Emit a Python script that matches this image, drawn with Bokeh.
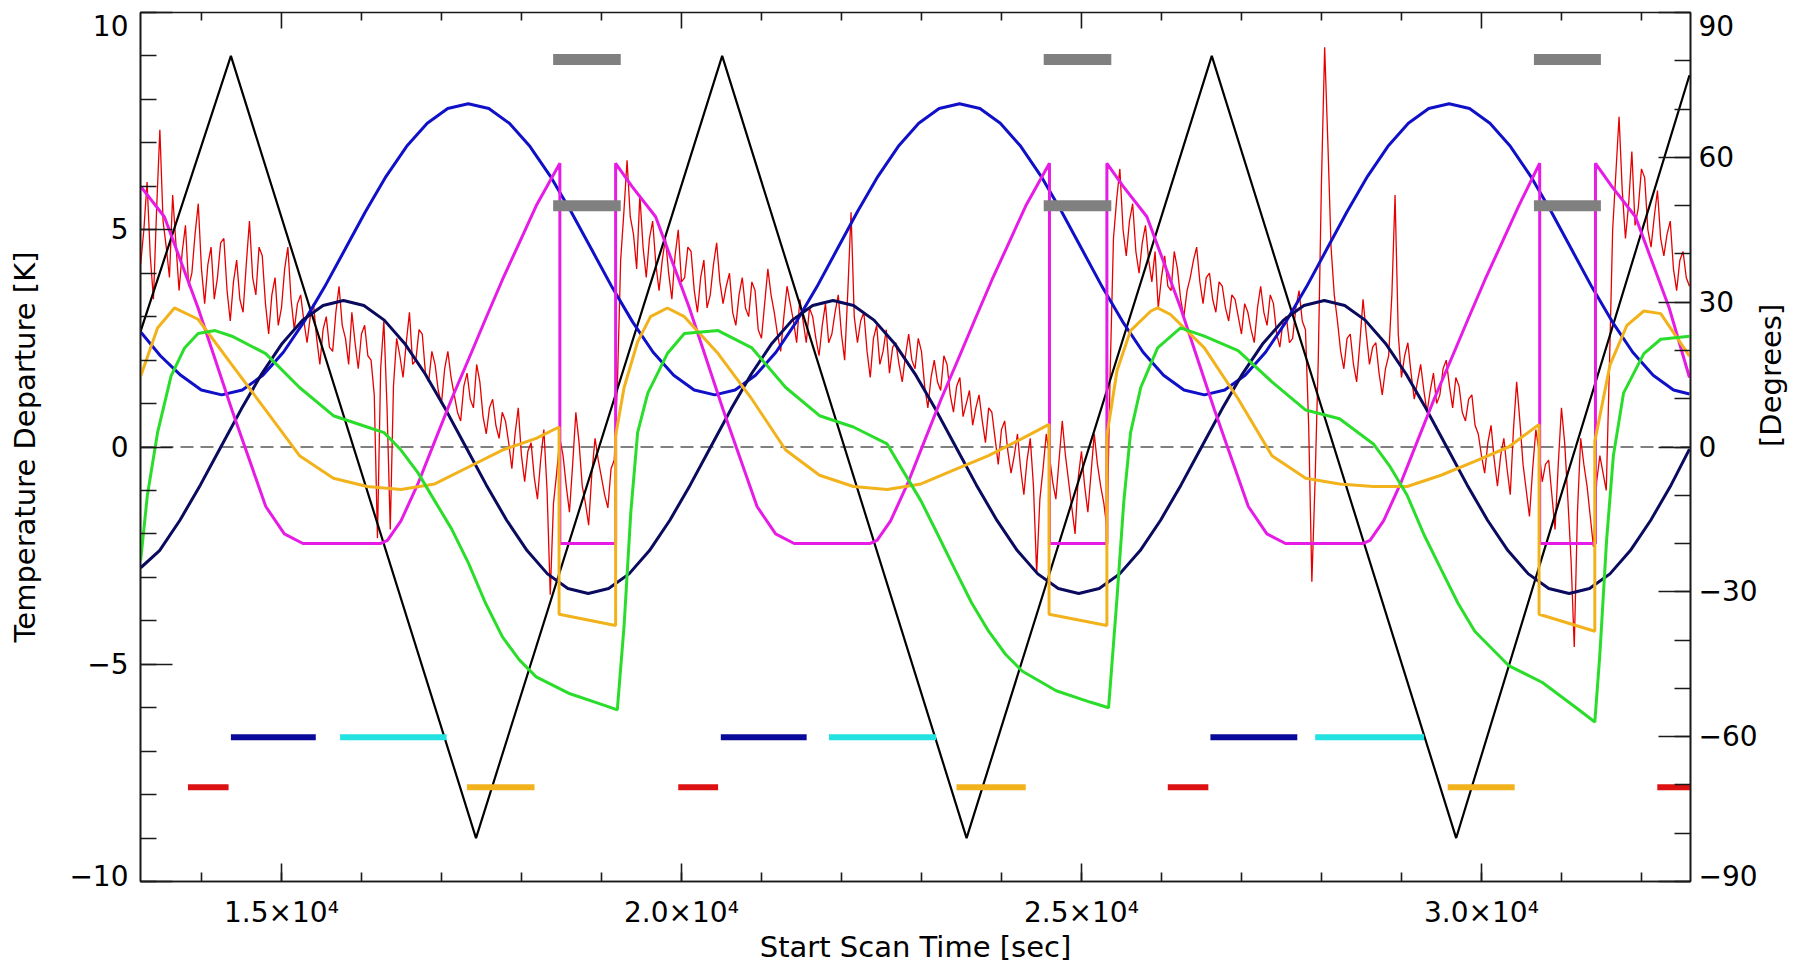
import numpy as np
from bokeh.plotting import figure
from bokeh.models import Range1d, LinearAxis, FixedTicker, Span
from bokeh.embed import file_html
from bokeh.resources import INLINE

# ---------------- data ----------------
# Temperature departure [K], sampled every 40 s starting at 13240 s
red_t0 = 13240
red_dt = 40
red_vals = [
    4.2, 5.0, 6.1, 4.4, 3.4, 5.5, 7.3, 5.2, 4.6, 3.9, 5.8, 4.7,
    3.6, 4.5, 5.1, 3.7, 4.0, 4.9, 5.6, 4.1, 3.3, 4.2, 4.6, 3.4, 3.9, 4.7,
    4.8, 3.6, 2.9, 3.8, 4.3, 3.4, 3.1, 4.2, 5.2, 3.9, 3.5, 4.6, 4.4, 3.3, 2.6, 3.5,
    3.9, 2.8, 3.2, 4.1, 4.6, 3.4, 2.7, 3.3, 3.5, 2.9,
    2.4, 3.0, 3.3, 2.5, 1.9, 2.7, 3.0, 2.3, 2.2, 3.1, 3.7, 2.8, 2.5, 1.9, 3.1, 2.4,
    1.8, 2.6, 2.8, 2.1,
    2.0, 1.2, -2.1, 1.8, 2.9, 0.9, -1.9, 1.4, 2.5, 2.1, 1.6, 2.4, 3.1, 1.9, 2.0, 2.7,
    2.6, 1.7, 1.5, 2.2,
    1.9, 1.3, 1.0, 1.8, 2.2, 1.6, 1.2, 0.8, 0.6, 1.4, 1.7, 1.1, 0.9, 1.9, 1.5, 0.7,
    0.3, 0.9, 1.1, 0.5, 0.2, 0.8,
    0.6, 0.1, -0.5, 0.3, 0.9, -0.2, -0.8, -0.1, 0.1, -0.7, -1.2, -0.3, 0.4, -1.0,
    -3.4, -1.3, -0.6, 0.2,
    -0.2, -0.9, -1.5, -0.4, 0.8, 0.1, -0.9, -1.3, -1.8, -0.6, 0.2, -0.3, -0.7, -1.1,
    -1.4, -0.5, -0.3, 1.5,
    4.3, 5.4, 6.6, 5.3, 4.9, 4.1, 5.8, 4.6, 3.9, 4.8, 5.2, 4.2,
    3.6, 4.3, 4.8, 4.0, 3.4, 4.4, 5.0, 3.8, 3.9, 4.6, 4.5, 3.6, 3.1, 3.9, 4.3, 3.2,
    3.5, 4.2, 4.7, 3.8, 3.3, 3.7, 4.0, 3.1,
    2.8, 3.5, 3.9, 3.2, 3.0, 3.8, 3.6, 2.7, 2.5, 3.3, 4.1, 3.5, 3.1, 2.6, 2.2, 3.0,
    3.7, 3.3, 2.9, 2.4, 3.4, 2.9, 2.4, 3.2, 3.0, 2.5,
    2.1, 2.8, 3.3, 2.4, 2.6, 3.1, 3.5, 2.6, 2.0, 3.6, 5.4, 3.0, 2.4, 2.9, 3.1, 2.2,
    1.6, 2.5, 2.8, 1.9, 2.2, 2.7, 1.7, 2.3,
    2.4, 1.9, 1.5, 2.1, 2.6, 2.0, 1.8, 2.5, 2.2, 1.4, 0.9, 1.6, 2.0, 1.5, 1.3, 2.1,
    1.9, 1.2, 0.8, 1.4, 1.6, 0.7, 1.0, 1.3, 0.5, 0.9,
    1.2, 0.6, 0.1, 0.9, 0.8, 0.2, -0.4, 0.4, 0.6, -0.1, -0.6, -0.2, 0.3, -0.5, -1.1,
    -0.3, 0.2, -0.9, -2.9, -1.2, -0.5, 0.3, -0.2, -0.8,
    -1.2, -0.3, 0.6, -0.2, -0.8, -1.4, -2.0, -0.7, -0.1, -0.9, -1.5, -0.6, 0.3, -0.4,
    -0.9, -1.3, -1.9, 1.8,
    4.8, 5.7, 6.4, 5.0, 4.4, 5.2, 5.6, 4.5, 4.0, 4.7, 5.1, 4.3, 3.8, 4.5,
    3.2, 3.9, 4.4, 3.7, 3.6, 4.5, 4.1, 3.4, 3.0, 3.6, 3.9, 4.3, 4.6, 3.8, 3.3, 3.9,
    4.0, 3.4, 3.1, 3.8, 3.7, 3.2, 2.9, 3.5,
    3.4, 3.0, 2.6, 3.3, 3.1, 2.7, 2.4, 3.2, 3.7, 3.1, 2.8, 3.5, 3.3, 2.6, 2.3, 2.9,
    3.0, 2.4, 2.5, 3.2, 3.6, 2.9, 2.7, 0.5,
    -3.1, -0.8, 2.0, 6.1, 9.2, 7.0, 4.6, 3.5,
    2.9, 2.2, 1.8, 2.5, 2.6, 1.9, 1.5, 2.4, 3.4, 2.6, 1.9, 2.3, 2.4, 1.7, 1.2, 1.8,
    2.1, 3.5, 5.8, 2.6,
    1.6, 2.1, 2.4, 1.7, 1.1, 1.5, 1.9, 1.3, 0.8, 1.3, 1.7, 1.0, 1.2, 1.8, 2.0, 1.4,
    0.9, 1.6, 1.4, 0.8, 0.6, 1.1, 1.2, 0.5,
    0.3, -0.2, -0.6, 0.1, 0.5, -0.3, -0.9, -0.2, 0.2, -0.5, -1.1, 0.4, 1.5, 0.6,
    -0.4, -1.0, -1.6, -0.5, 0.4, -0.1, -0.8, -0.4,
    -0.3, -1.1, -1.9, -0.4, 0.9, 0.1, -1.2, -2.6, -4.6, -1.5, 0.2, -0.4, -0.9, -1.6,
    -2.3, -0.8, -0.2, -0.6, -1.0, 1.9,
    5.0, 6.3, 7.6, 5.9, 4.8, 5.6, 6.8, 5.1, 5.5, 6.4, 6.2, 5.0, 4.6, 5.3, 5.9, 4.8,
    4.4, 4.9, 5.2, 4.1, 3.6, 4.3, 4.5, 3.9, 3.7,
]

# Scan angle [degrees] (right axis)
black_t = [13240, 14368, 17432, 20509, 23564, 26629, 29684, 32600]
black_deg = [24, 81, -81, 81, -81, 81, -81, 77]

blue_t = [13240, 13486, 13742, 13998,
          14254, 14511, 14768, 15024, 15281, 15538, 15795, 16051, 16308, 16565, 16822, 17078,
          17335, 17592, 17849, 18105, 18362, 18619, 18876, 19132, 19389, 19646, 19903, 20159,
          20416, 20671, 20926, 21181, 21436, 21691, 21946, 22201, 22456, 22711, 22966, 23221,
          23476, 23731, 23986, 24241, 24496, 24751, 25006, 25261, 25516, 25771, 26026, 26281,
          26536, 26791, 27046, 27301, 27556, 27811, 28066, 28321, 28576, 28831, 29086, 29341,
          29596, 29851, 30106, 30361, 30616, 30871, 31126, 31381, 31636, 31891, 32146, 32401,
          32600]
blue_v = [2.65, 2.1, 1.65, 1.31,
          1.2, 1.31, 1.65, 2.18, 2.88, 3.68, 4.55, 5.42, 6.23, 6.92, 7.45, 7.79,
          7.9, 7.79, 7.45, 6.92, 6.23, 5.42, 4.55, 3.68, 2.88, 2.18, 1.65, 1.31,
          1.2, 1.31, 1.65, 2.18, 2.88, 3.68, 4.55, 5.42, 6.23, 6.92, 7.45, 7.79,
          7.9, 7.79, 7.45, 6.92, 6.23, 5.42, 4.55, 3.68, 2.88, 2.18, 1.65, 1.31,
          1.2, 1.31, 1.65, 2.18, 2.88, 3.68, 4.55, 5.42, 6.23, 6.92, 7.45, 7.79,
          7.9, 7.79, 7.45, 6.92, 6.23, 5.42, 4.55, 3.68, 2.88, 2.18, 1.65, 1.31,
          1.22]

navy_t = [13240, 13476, 13731, 13987, 14242, 14498, 14753, 15009, 15264, 15520,
          15775, 16030, 16285, 16540, 16795, 17050, 17305, 17560, 17815, 18070, 18325, 18580,
          18835, 19090, 19345, 19600, 19855, 20110, 20365, 20620, 20875, 21130, 21385, 21640,
          21895, 22151, 22407, 22663, 22919, 23175, 23430, 23686, 23942, 24198, 24454, 24710,
          24966, 25222, 25478, 25734, 25989, 26245, 26501, 26757, 27013, 27269, 27525, 27781,
          28036, 28291, 28546, 28801, 29056, 29311, 29566, 29821, 30076, 30331, 30586, 30841,
          31096, 31351, 31606, 31861, 32116, 32371, 32600]
navy_v = [-2.78, -2.383, -1.685, -0.872, 0.0, 0.872, 1.685, 2.383, 2.92, 3.255,
          3.37, 3.255, 2.92, 2.383, 1.685, 0.872, 0.0, -0.872, -1.685, -2.383, -2.92, -3.255,
          -3.37, -3.255, -2.92, -2.383, -1.685, -0.872, 0.0, 0.872, 1.685, 2.383, 2.92, 3.255,
          3.37, 3.255, 2.92, 2.383, 1.685, 0.872, 0.0, -0.872, -1.685, -2.383, -2.92, -3.255,
          -3.37, -3.255, -2.92, -2.383, -1.685, -0.872, 0.0, 0.872, 1.685, 2.383, 2.92, 3.255,
          3.37, 3.255, 2.92, 2.383, 1.685, 0.872, 0.0, -0.872, -1.685, -2.383, -2.92, -3.255,
          -3.37, -3.255, -2.92, -2.383, -1.685, -0.872, -0.05]

magenta_t = [13240, 13536, 13958, 14381, 14804, 15036, 15268, 16240, 16325, 16494,
             16705, 16916, 17128, 17339, 17550, 17762, 17973, 18184, 18480, 18480,
             19177, 19177, 19381, 19677, 20099, 20522, 20945, 21177, 21409, 22360,
             22445, 22614, 22825, 23036, 23248, 23459, 23670, 23882, 24093, 24304,
             24600, 24600, 25318, 25318, 25522, 25818, 26240, 26663, 27086, 27318,
             27550, 28522, 28607, 28776, 28987, 29198, 29410, 29621, 29832, 30044,
             30255, 30466, 30728, 30728, 31425, 31425, 31629, 31925, 32347, 32600]
magenta_v = [6.0, 5.3, 3.2, 0.85, -1.37, -2.0, -2.22, -2.22, -2.15, -1.70,
             -0.85, 0.13, 1.11, 2.02, 2.94, 3.85, 4.7, 5.55, 6.53, -2.22,
             -2.22, 6.53, 6.0, 5.3, 3.2, 0.85, -1.37, -2.0, -2.22, -2.22,
             -2.15, -1.70, -0.85, 0.13, 1.11, 2.02, 2.94, 3.85, 4.7, 5.55,
             6.53, -2.22, -2.22, 6.53, 6.0, 5.3, 3.2, 0.85, -1.37, -2.0,
             -2.22, -2.22, -2.15, -1.70, -0.85, 0.13, 1.11, 2.02, 2.94, 3.85,
             4.7, 5.55, 6.53, -2.22, -2.22, 6.53, 6.0, 5.3, 3.2, 1.6]

orange_t = [13240, 13451, 13662, 13958, 14381, 14803, 15226, 15649, 16071, 16494,
            16916, 17339, 17762, 18184, 18470, 18470, 19177, 19177, 19283, 19452,
            19613, 19824, 20036, 20458, 20881, 21303, 21726, 22149, 22571, 22994,
            23416, 23839, 24262, 24595, 24595, 25318, 25318, 25445, 25614, 25868,
            25952, 26113, 26536, 26958, 27381, 27803, 28226, 28649, 29071, 29494,
            29916, 30339, 30720, 30720, 31417, 31417, 31607, 31818, 32030, 32241,
            32600]
orange_v = [1.63, 2.74, 3.2, 2.94, 1.89, 0.85, -0.2, -0.72, -0.91, -0.98,
            -0.85, -0.46, -0.07, 0.2, 0.46, -3.85, -4.11, 0.26, 1.37, 2.42,
            3.0, 3.2, 3.0, 2.15, 1.1, -0.07, -0.65, -0.91, -0.98, -0.85,
            -0.52, -0.2, 0.2, 0.52, -3.85, -4.11, 0.26, 1.76, 2.68, 3.13,
            3.2, 3.05, 2.28, 1.11, -0.2, -0.72, -0.85, -0.91, -0.91, -0.65,
            -0.33, 0.0, 0.52, -3.85, -4.24, 0.13, 1.89, 2.8, 3.13, 3.07,
            2.09]

green_t = [13240, 13324, 13451, 13620, 13789, 13958, 14170, 14381, 14803, 15226,
           15649, 16071, 16283, 16494, 16705, 16916, 17128, 17339, 17550, 17762,
           17973, 18184, 18607, 19029, 19198, 19283, 19367, 19452, 19579, 19824,
           20036, 20458, 20881, 21303, 21726, 22149, 22571, 22783, 22994, 23205,
           23416, 23628, 23839, 24050, 24262, 24684, 25107, 25339, 25445, 25530,
           25614, 25741, 25952, 26239, 26536, 26958, 27381, 27803, 28226, 28649,
           28860, 29071, 29282, 29494, 29705, 29916, 30339, 30762, 31184, 31417,
           31480, 31564, 31649, 31776, 32030, 32241, 32600]
green_v = [-2.61, -1.11, 0.33, 1.63, 2.28, 2.61, 2.68, 2.55, 2.15, 1.37,
           0.72, 0.46, 0.33, -0.07, -0.59, -1.24, -1.89, -2.68, -3.59, -4.37,
           -4.9, -5.29, -5.68, -5.94, -6.05, -4.11, -1.5, 0.33, 1.24, 2.15,
           2.61, 2.68, 2.28, 1.37, 0.72, 0.46, 0.07, -0.59, -1.24, -2.02,
           -2.81, -3.59, -4.24, -4.77, -5.16, -5.61, -5.87, -6.0, -3.46, -1.24,
           0.33, 1.37, 2.28, 2.74, 2.55, 2.22, 1.5, 0.85, 0.65, 0.07,
           -0.46, -1.11, -2.02, -2.81, -3.59, -4.24, -5.03, -5.42, -6.0, -6.33,
           -4.77, -2.15, -0.2, 1.24, 2.15, 2.48, 2.55]

# Interval markers (start, end) [s] and their levels [K]
gray_start = [18396, 24528, 30656]
gray_end = [19241, 25373, 31493]
gray_levels = [8.92, 5.55]

bar_upper_level = -6.68
bar_lower_level = -7.83
navybar_start = [14368, 20492, 26612]
navybar_end = [15429, 21565, 27698]
cyanbar_start = [15733, 21844, 27922]
cyanbar_end = [17064, 23184, 29283]
redbar_start = [13831, 19960, 26079, 32198]
redbar_end = [14339, 20458, 26586, 32700]
orangebar_start = [17318, 23438, 29578]
orangebar_end = [18163, 24304, 30415]

# Axis ticks and labels
x_major = [15000, 20000, 25000, 30000]
x_major_labels = ["1.5×10⁴", "2.0×10⁴", "2.5×10⁴", "3.0×10⁴"]
x_minor = list(range(13000, 33001, 1000))
y_major = [-10, -5, 0, 5, 10]
y_major_labels = ["−10\n", "−5", "0", "5", "\n10"]
deg_major = [-90, -60, -30, 0, 30, 60, 90]
deg_major_labels = ["−90\n", "−60", "−30", "0", "30", "60", "\n90"]

# ---------------- figure ----------------
X0, X1 = 13238, 32613
Y0, Y1 = -10, 10
p = figure(width=1812, height=966, x_range=Range1d(X0, X1), y_range=Range1d(Y0, Y1),
           output_backend="svg", toolbar_location=None,
           min_border_left=140, min_border_right=122, min_border_top=12, min_border_bottom=84)
p.extra_y_ranges = {"deg": Range1d(-90, 90)}
p.grid.visible = False
AX_COL = "#1a1a1a"
p.outline_line_color = AX_COL
p.outline_line_width = 1.6
p.background_fill_color = "white"
p.border_fill_color = "white"

TICK_FONT = "DejaVu Sans"
TICK_SIZE = "28px"
TITLE_FONT = "DejaVu Sans"
TITLE_SIZE = "29px"


def style_axis(ax, major_in, minor_in, line_height=1.2):
    ax.major_tick_in = major_in
    ax.major_tick_out = 0
    ax.minor_tick_in = minor_in
    ax.minor_tick_out = 0
    ax.axis_line_width = 1.6
    ax.axis_line_color = AX_COL
    ax.major_tick_line_width = 1.6
    ax.minor_tick_line_width = 1.6
    ax.major_tick_line_color = AX_COL
    ax.minor_tick_line_color = AX_COL
    ax.major_label_text_font = TICK_FONT
    ax.major_label_text_font_size = TICK_SIZE
    ax.major_label_text_color = "black"
    ax.major_label_text_line_height = line_height
    ax.axis_label_text_font = TITLE_FONT
    ax.axis_label_text_font_size = TITLE_SIZE
    ax.axis_label_text_font_style = "normal"
    ax.axis_label_text_color = "black"


# bottom axis
xax = p.xaxis[0]
xax.ticker = FixedTicker(ticks=x_major, minor_ticks=x_minor)
xax.major_label_overrides = dict(zip(x_major, x_major_labels))
style_axis(xax, 18, 9)
xax.major_label_standoff = 14
xax.axis_label = "Start Scan Time [sec]"
xax.axis_label_standoff = -2

# left axis
yax = p.yaxis[0]
yax.ticker = FixedTicker(ticks=y_major, minor_ticks=list(range(-10, 11)))
yax.major_label_overrides = dict(zip(y_major, y_major_labels))
style_axis(yax, 32, 16, line_height=0.3)
yax.major_label_standoff = 12
yax.axis_label = "Temperature Departure [K]"
yax.axis_label_standoff = 24

# right axis (degrees)
rax = LinearAxis(y_range_name="deg",
                 ticker=FixedTicker(ticks=deg_major, minor_ticks=list(range(-90, 91, 10))))
rax.major_label_overrides = dict(zip(deg_major, deg_major_labels))
style_axis(rax, 32, 16, line_height=0.3)
rax.major_label_standoff = 8
rax.axis_label = "[Degrees]"
rax.axis_label_standoff = 10
try:
    if "axis_label_orientation" in rax.properties():
        rax.axis_label_orientation = np.pi / 2
except Exception:
    pass
p.add_layout(rax, "right")

# top-edge tick marks (same positions as the bottom axis)
x_top_minor = [t for t in x_minor if t not in x_major]
p.segment(x_major, [Y1] * len(x_major), x_major, [Y1 - 16 / 43.5] * len(x_major),
          line_color=AX_COL, line_width=1.6)
p.segment(x_top_minor, [Y1] * len(x_top_minor), x_top_minor,
          [Y1 - 8 / 43.5] * len(x_top_minor), line_color=AX_COL, line_width=1.6)

# zero line
p.add_layout(Span(location=0, dimension="width", line_color="#808080",
                  line_width=2, line_dash="13 7", level="underlay"))

# ---------------- glyphs ----------------
red_t = red_t0 + red_dt * np.arange(len(red_vals))
p.line(red_t, red_vals, line_color="#E60000", line_width=1.3)

p.line(black_t, black_deg, y_range_name="deg", line_color="black", line_width=2.2)
p.line(blue_t, blue_v, line_color="#1010C8", line_width=3)
p.line(navy_t, navy_v, line_color="#0A0A5E", line_width=3)
p.line(magenta_t, magenta_v, line_color="#E61CE6", line_width=3)
p.line(orange_t, orange_v, line_color="#F2B21C", line_width=3)
p.line(green_t, green_v, line_color="#2BDD2B", line_width=3)

for lvl in gray_levels:
    p.segment(gray_start, [lvl] * len(gray_start), gray_end, [lvl] * len(gray_end),
              line_color="#808080", line_width=11, line_cap="butt")

p.segment(navybar_start, [bar_upper_level] * 3, navybar_end, [bar_upper_level] * 3,
          line_color="#0A0A9A", line_width=6, line_cap="butt")
p.segment(cyanbar_start, [bar_upper_level] * 3, cyanbar_end, [bar_upper_level] * 3,
          line_color="#22E2E2", line_width=6, line_cap="butt")
p.segment(redbar_start, [bar_lower_level] * 4, redbar_end, [bar_lower_level] * 4,
          line_color="#DD1111", line_width=6, line_cap="butt")
p.segment(orangebar_start, [bar_lower_level] * 3, orangebar_end, [bar_lower_level] * 3,
          line_color="#F2B21C", line_width=6, line_cap="butt")

open("out.html", "w").write(file_html(p, INLINE))
